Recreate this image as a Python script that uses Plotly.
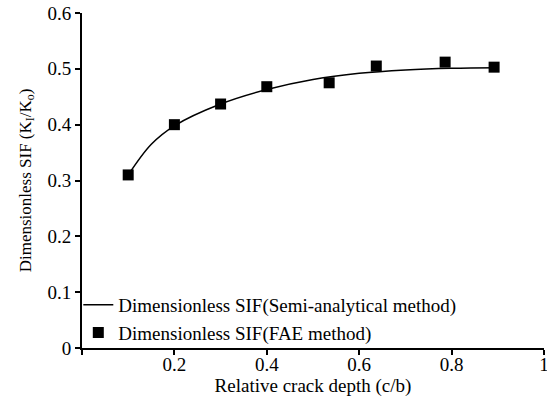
import plotly.graph_objects as go

# Semi-analytical curve
curve_x = [0.1, 0.15, 0.2, 0.3, 0.4, 0.5, 0.6, 0.7, 0.8, 0.9]
curve_y = [0.31, 0.365, 0.398, 0.437, 0.463, 0.481, 0.492, 0.498, 0.501, 0.502]

# FAE method points
fae_x = [0.1, 0.2, 0.3, 0.4, 0.535, 0.637, 0.786, 0.892]
fae_y = [0.31, 0.40, 0.437, 0.468, 0.475, 0.505, 0.512, 0.503]

x_ticks = [0, 0.2, 0.4, 0.6, 0.8, 1]
x_labels = ["", "0.2", "0.4", "0.6", "0.8", "1"]
y_ticks = [0, 0.1, 0.2, 0.3, 0.4, 0.5, 0.6]
y_labels = ["0", "0.1", "0.2", "0.3", "0.4", "0.5", "0.6"]

FAM = "Liberation Serif"
font = dict(family=FAM, size=19, color="black")
yfont = dict(family=FAM, size=17, color="black")

fig = go.Figure()
fig.add_trace(go.Scatter(
    x=curve_x, y=curve_y, mode="lines", line=dict(color="black", width=1.5, shape="spline"),
    name="Dimensionless SIF(Semi-analytical method)"))
fig.add_trace(go.Scatter(
    x=fae_x, y=fae_y, mode="markers", marker=dict(symbol="square", color="black", size=11),
    name="Dimensionless SIF(FAE method)"))

fig.update_layout(
    width=547, height=402,
    margin=dict(l=82, r=3, t=13, b=54),
    paper_bgcolor="white", plot_bgcolor="white",
    font=font,
    showlegend=True,
    legend=dict(x=-0.008, y=-0.012, xanchor="left", yanchor="bottom", bgcolor="rgba(0,0,0,0)",
                font=font, tracegroupgap=0, itemwidth=30),
    xaxis=dict(range=[0, 1], tickvals=x_ticks, ticktext=x_labels, ticks="outside", ticklen=5,
               tickwidth=2, tickcolor="black", showline=True, linecolor="black", linewidth=2,
               showgrid=False, zeroline=False, tickfont=font, ticklabeloverflow="allow",
               automargin=False, ticklabelstandoff=-7,
               title=dict(text="Relative crack depth (c/b)", font=font, standoff=4)),
    yaxis=dict(range=[0, 0.6], tickvals=y_ticks, ticktext=y_labels, ticks="outside", ticklen=5,
               tickwidth=2, tickcolor="black", showline=True, linecolor="black", linewidth=2,
               showgrid=False, zeroline=False, tickfont=font, automargin=False,
               title=dict(text="Dimensionless SIF (K<sub>I</sub>/K<sub>o</sub>)", font=yfont, standoff=12)),
)

fig.write_html("out.html")
